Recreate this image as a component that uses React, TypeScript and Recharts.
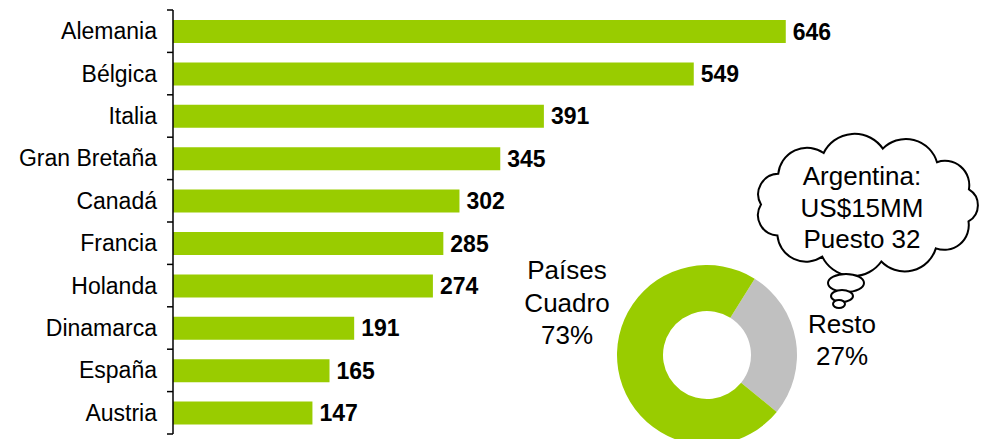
import React from "react";
import { BarChart, Bar, XAxis, YAxis, LabelList, PieChart, Pie, Cell } from "recharts";

const countries = ["Alemania", "Bélgica", "Italia", "Gran Bretaña", "Canadá", "Francia", "Holanda", "Dinamarca", "España", "Austria"];
const values = [646, 549, 391, 345, 302, 285, 274, 191, 165, 147];
const shareNames = ["Resto", "Países Cuadro"];
const shareValues = [27, 73];
const cloudLines = ["Argentina:", "US$15MM", "Puesto 32"];
const shareLabels = [["Países", "Cuadro", "73%"], ["Resto", "27%"]];

const barData = countries.map((c, i) => ({ name: c, value: values[i] }));
const pieData = shareNames.map((n, i) => ({ name: n, value: shareValues[i] }));

const W = 988;
const H = 439;
const TOP = 10;
const BOTTOM = 5;
const BAND = (H - TOP - BOTTOM) / countries.length;
const FONT = "'Liberation Sans', Arial, sans-serif";
const GREEN = "#99CC00";
const GRAY = "#C0C0C0";

const CountryTick = (props: any) => {
  const { x, y, payload, index } = props;
  const ax = x + 16;
  return (
    <g>
      <text x={x} y={y} dy="0.35em" textAnchor="end" fontSize={23} fontFamily={FONT} fill="#000">
        {payload.value}
      </text>
      <line x1={ax - 6} x2={ax} y1={y - BAND / 2} y2={y - BAND / 2} stroke="#000" strokeWidth={1.5} />
      {index === countries.length - 1 && (
        <line x1={ax - 6} x2={ax} y1={y + BAND / 2} y2={y + BAND / 2} stroke="#000" strokeWidth={1.5} />
      )}
    </g>
  );
};

function cloudPath(cx: number, cy: number, rx: number, ry: number, n: number) {
  const pts: [number, number][] = [];
  for (let i = 0; i < n; i++) {
    const a = -Math.PI / 2 + (i * 2 * Math.PI) / n + 0.15;
    pts.push([cx + rx * Math.cos(a), cy + ry * Math.sin(a)]);
  }
  let d = `M ${pts[0][0]} ${pts[0][1]}`;
  for (let i = 0; i < n; i++) {
    const p = pts[i];
    const q = pts[(i + 1) % n];
    const chord = Math.hypot(q[0] - p[0], q[1] - p[1]);
    const r = chord * 0.58;
    d += ` A ${r} ${r} 0 0 1 ${q[0]} ${q[1]}`;
  }
  return d + " Z";
}

export default function App() {
  return (
    <div style={{ position: "absolute", left: 0, top: 0, width: W, height: H, background: "#fff" }}>
      <div style={{ position: "absolute", left: 0, top: 0 }}>
        <BarChart
          width={W}
          height={H}
          data={barData}
          layout="vertical"
          margin={{ top: TOP, right: 151, bottom: BOTTOM, left: 0 }}
          barSize={23}
        >
          <XAxis type="number" hide domain={[0, 700]} />
          <YAxis
            type="category"
            dataKey="name"
            width={173}
            axisLine={{ stroke: "#000", strokeWidth: 1.5 }}
            tickLine={false}
            tickSize={0}
            tickMargin={16}
            tick={<CountryTick />}
            interval={0}
          />
          <Bar dataKey="value" fill={GREEN} isAnimationActive={false}>
            <LabelList
              dataKey="value"
              position="right"
              offset={7}
              fill="#000"
              fontSize={23}
              fontWeight="bold"
              fontFamily={FONT}
            />
          </Bar>
        </BarChart>
      </div>
      <div style={{ position: "absolute", left: 0, top: 0 }}>
        <PieChart width={W} height={H} margin={{ top: 0, right: 0, bottom: 0, left: 0 }}>
          <Pie
            data={pieData}
            dataKey="value"
            cx={707}
            cy={355}
            innerRadius={44}
            outerRadius={90}
            startAngle={58}
            endAngle={-302}
            stroke="none"
            isAnimationActive={false}
          >
            <Cell fill={GRAY} />
            <Cell fill={GREEN} />
          </Pie>
        </PieChart>
      </div>
      <svg width={W} height={H} style={{ position: "absolute", left: 0, top: 0, pointerEvents: "none" }}>
        <g fontFamily={FONT} fontSize={26} fill="#000" textAnchor="middle">
          {shareLabels[0].map((t, i) => (
            <text key={"p" + i} x={567} y={279 + i * 32.5}>{t}</text>
          ))}
          {shareLabels[1].map((t, i) => (
            <text key={"r" + i} x={842} y={333 + i * 32}>{t}</text>
          ))}
        </g>
        <path d={cloudPath(867, 205, 106, 57, 11)} fill="#fff" stroke="#000" strokeWidth={2} />
        <ellipse cx={846} cy={283} rx={18} ry={9} fill="#fff" stroke="#000" strokeWidth={2} />
        <ellipse cx={842} cy={296} rx={11} ry={6} fill="#fff" stroke="#000" strokeWidth={2} />
        <ellipse cx={839} cy={304} rx={6} ry={4} fill="#fff" stroke="#000" strokeWidth={2} />
        <g fontFamily={FONT} fontSize={26} fill="#000" textAnchor="middle">
          {cloudLines.map((t, i) => (
            <text key={"c" + i} x={862} y={185 + i * 31.5}>{t}</text>
          ))}
        </g>
      </svg>
    </div>
  );
}
